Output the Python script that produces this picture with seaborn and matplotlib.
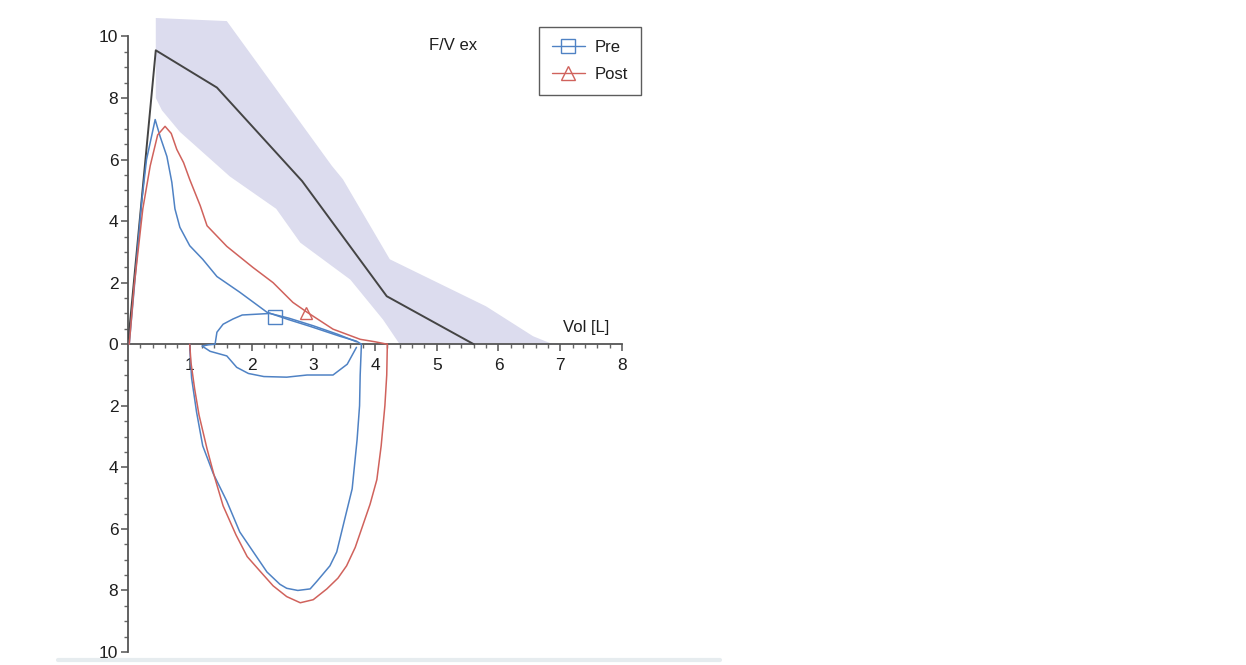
import numpy as np
import matplotlib
matplotlib.use("Agg")
import matplotlib.pyplot as plt
import seaborn as sns
from matplotlib.lines import Line2D
from matplotlib.ticker import FixedLocator, FuncFormatter

# predicted (reference) expiratory curve
pred_vol = [0.0, 0.45, 1.44, 2.82, 4.19, 5.6]
pred_flow = [0.0, 9.55, 8.34, 5.3, 1.56, 0.0]

# normal range band
band_upper_vol = [0.45, 1.6, 3.3, 3.48, 4.24, 5.8, 6.56, 6.88]
band_upper_flow = [10.6, 10.5, 5.8, 5.36, 2.76, 1.23, 0.26, 0.0]
band_lower_vol = [4.4, 4.13, 3.6, 2.79, 2.4, 1.65, 0.84, 0.55, 0.45]
band_lower_flow = [0.0, 0.8, 2.1, 3.3, 4.4, 5.45, 6.9, 7.6, 8.0]

# Pre: expiratory, inspiratory and tidal loop
pre_ex_vol = [0.02, 0.1, 0.22, 0.3, 0.44, 0.52, 0.63, 0.71, 0.76, 0.84, 1.0, 1.21,
              1.44, 1.81, 2.25, 2.6, 2.95, 3.43, 3.7, 3.78]
pre_ex_flow = [0.0, 1.8, 4.6, 6.0, 7.3, 6.75, 6.1, 5.26, 4.4, 3.8, 3.2, 2.76,
               2.2, 1.69, 1.04, 0.8, 0.58, 0.26, 0.1, 0.0]
pre_in_vol = [3.78, 3.76, 3.75, 3.71, 3.63, 3.51, 3.38, 3.27, 3.06, 2.95, 2.75, 2.57,
              2.46, 2.25, 2.03, 1.81, 1.6, 1.38, 1.21, 1.11, 1.03, 1.0, 1.0]
pre_in_flow = [0.0, -1.0, -2.0, -3.1, -4.7, -5.68, -6.75, -7.2, -7.7, -7.95, -8.0, -7.93,
               -7.8, -7.4, -6.75, -6.1, -5.1, -4.2, -3.3, -2.2, -1.1, -0.15, 0.0]
pre_tidal_vol = [3.7, 3.55, 3.32, 2.9, 2.57, 2.2, 1.95, 1.76, 1.6, 1.33, 1.2, 1.3,
                 1.41, 1.44, 1.54, 1.7, 1.85, 2.3, 2.6, 3.0, 3.4, 3.7]
pre_tidal_flow = [-0.1, -0.65, -1.0, -1.0, -1.07, -1.05, -0.95, -0.75, -0.38, -0.23, -0.06, -0.02,
                  0.0, 0.39, 0.65, 0.82, 0.95, 1.0, 0.85, 0.6, 0.32, 0.08]

# Post: expiratory and inspiratory
post_ex_vol = [0.02, 0.1, 0.24, 0.36, 0.48, 0.6, 0.7, 0.79, 0.9, 1.0, 1.17, 1.28,
               1.6, 2.02, 2.35, 2.67, 2.9, 3.32, 3.76, 4.0, 4.2]
post_ex_flow = [0.0, 1.9, 4.4, 5.8, 6.8, 7.08, 6.85, 6.33, 5.9, 5.35, 4.5, 3.85,
                3.18, 2.5, 2.0, 1.36, 1.04, 0.49, 0.16, 0.08, 0.0]
post_in_vol = [4.2, 4.19, 4.16, 4.1, 4.03, 3.92, 3.8, 3.68, 3.54, 3.4, 3.22, 3.0,
               2.79, 2.57, 2.35, 2.15, 1.93, 1.75, 1.54, 1.4, 1.28, 1.15, 1.08, 1.02, 1.0]
post_in_flow = [0.0, -1.0, -2.0, -3.3, -4.4, -5.2, -5.9, -6.6, -7.2, -7.6, -7.95, -8.3,
                -8.4, -8.2, -7.85, -7.4, -6.9, -6.2, -5.25, -4.3, -3.4, -2.3, -1.46, -0.6, 0.0]

# marker positions on the curves
pre_marker = (2.38, 0.9)
post_marker = (2.88, 1.0)

x_ticks = [1, 2, 3, 4, 5, 6, 7, 8]
y_ticks = [-10, -8, -6, -4, -2, 0, 2, 4, 6, 8, 10]

PRE_COLOR = "#4f82c4"
POST_COLOR = "#d0625c"
TEXT_COLOR = "#1e1e1e"

sns.set_style("white")
plt.rcParams["font.family"] = ["Liberation Sans", "DejaVu Sans"]

X_MAX = 8.05
fig = plt.figure(figsize=(12.46, 6.65), dpi=100)
ax_w_px = (622 - 128) * X_MAX / 8
ax = fig.add_axes([128 / 1246, 1 - 652 / 665, ax_w_px / 1246, (652 - 18) / 665])

# normal band
band_vol = band_upper_vol + band_lower_vol
band_flow = band_upper_flow + band_lower_flow
ax.fill(band_vol, band_flow, color="#dcdcee", lw=0, zorder=1)

sns.lineplot(x=pred_vol, y=pred_flow, sort=False, estimator=None, ax=ax,
             color="#444444", lw=1.4, zorder=3)

for xs, ys in [(pre_ex_vol, pre_ex_flow), (pre_in_vol, pre_in_flow), (pre_tidal_vol, pre_tidal_flow)]:
    sns.lineplot(x=xs, y=ys, sort=False, estimator=None, ax=ax, color=PRE_COLOR, lw=1.1, zorder=4)
for xs, ys in [(post_ex_vol, post_ex_flow), (post_in_vol, post_in_flow)]:
    sns.lineplot(x=xs, y=ys, sort=False, estimator=None, ax=ax, color=POST_COLOR, lw=1.1, zorder=4)

ax.plot(*pre_marker, marker="s", ms=10, mfc="none", mec=PRE_COLOR, mew=1.0, zorder=5)
ax.plot(*post_marker, marker="^", ms=9, mfc="none", mec=POST_COLOR, mew=1.0, zorder=5)

ax.set_xlim(0, X_MAX)
ax.set_ylim(-10, 10.6)

# axes: left spine and a horizontal axis through zero
for s in ["top", "right"]:
    ax.spines[s].set_visible(False)
ax.spines["left"].set_bounds(-10, 10)
ax.spines["bottom"].set_position(("data", 0))
ax.spines["bottom"].set_bounds(0, 8)
for s in ["left", "bottom"]:
    ax.spines[s].set_color("#555555")
    ax.spines[s].set_linewidth(1.3)
    ax.spines[s].set_zorder(2)

ax.set_xticks(x_ticks)
ax.xaxis.set_minor_locator(FixedLocator(np.arange(0.2, 8.01, 0.2)))
ax.set_yticks(y_ticks)
ax.yaxis.set_minor_locator(FixedLocator(np.arange(-10, 10.01, 0.5)))
ax.yaxis.set_major_formatter(FuncFormatter(lambda v, p: f"{abs(int(round(v)))}"))
ax.tick_params(axis="both", which="both", left=True, bottom=True, direction="out")
ax.tick_params(axis="both", which="major", length=5, width=1.1,
               color="#555555", labelsize=12.5, labelcolor=TEXT_COLOR)
ax.tick_params(axis="both", which="minor", length=3, width=1.0, color="#666666")
ax.tick_params(axis="y", pad=2)
ax.tick_params(axis="x", pad=5)
ax.grid(False)

ax.text(4.88, 9.7, "F/V ex", fontsize=12, color=TEXT_COLOR, va="center", ha="left")
ax.text(7.8, 0.3, "Vol [L]", fontsize=12, color=TEXT_COLOR, va="bottom", ha="right")

handles = [
    Line2D([], [], color=PRE_COLOR, lw=1.0, marker="s", ms=10, mfc="none", mec=PRE_COLOR),
    Line2D([], [], color=POST_COLOR, lw=1.0, marker="^", ms=10, mfc="none", mec=POST_COLOR),
]
leg = ax.legend(handles, ["Pre", "Post"], loc="upper right",
                bbox_to_anchor=((641 - 128) / ax_w_px, (652 - 27) / 634),
                borderaxespad=0, frameon=True, fancybox=False, fontsize=12,
                handlelength=2.0, handletextpad=0.6, borderpad=0.75, labelspacing=0.75)
leg.get_frame().set_edgecolor("#333333")
leg.get_frame().set_linewidth(1.0)
for t in leg.get_texts():
    t.set_color(TEXT_COLOR)

# scan edge at bottom
fig.add_artist(Line2D([58 / 1246, 720 / 1246], [1 - 660 / 665, 1 - 660 / 665],
                      color="#e6ecef", lw=3, transform=fig.transFigure))

fig.savefig("out.png", dpi=100, facecolor="white")
